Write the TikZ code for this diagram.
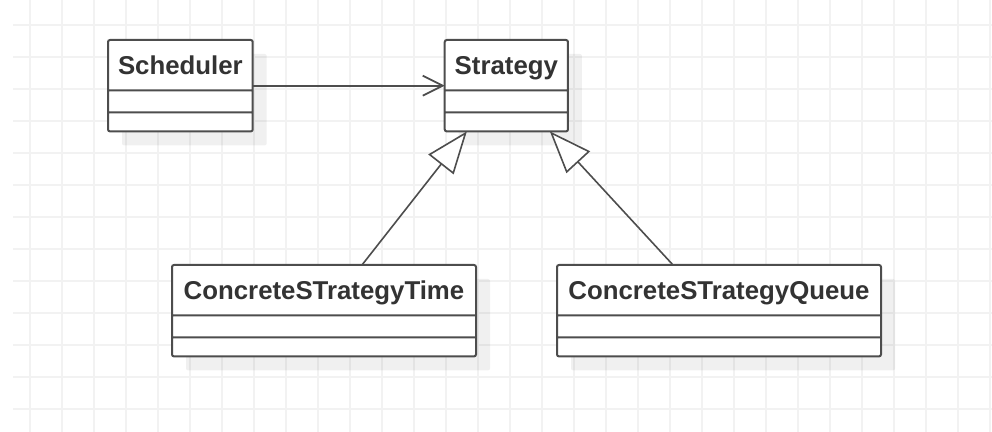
\documentclass[tikz,border=0pt]{standalone}
\usepackage{fontspec}
\setmainfont{Liberation Sans}
\usetikzlibrary{arrows.meta,positioning,shapes.multipart,shadows}
\definecolor{umlline}{HTML}{4D4D4D}
\definecolor{gridcol}{HTML}{F2F2F2}
% class name on top, attribute and operation compartments left empty
\newcommand{\umlname}[1]{\rule[-3.5pt]{0pt}{16.2pt}#1%
  \nodepart{two}\hspace*{1pt}\rule{0pt}{2pt}\nodepart{three}\hspace*{1pt}\rule{0pt}{0.5pt}}
\tikzset{
  umlclass/.style={rectangle split, rectangle split parts=3, draw=umlline, line width=1pt, rounded corners=1pt,
    fill=white, inner xsep=5pt, inner ysep=4pt, outer sep=0pt,
    font=\fontsize{12.9}{15}\selectfont\bfseries, text=black!80,
    drop shadow={shadow xshift=7pt, shadow yshift=-7pt, fill=black, opacity=0.06}},
  gridline/.style={draw=gridcol, line width=1pt},
  assoc/.style={-{Straight Barb[length=10pt, width=10pt]}, draw=umlline, line width=0.9pt},
  inherit/.style={-{Triangle[open, length=21pt, width=16pt, fill=white]}, draw=umlline, line width=0.8pt}
}
\begin{document}
\begin{tikzpicture}[x=0.5pt, y=-0.5pt]
  \useasboundingbox (0,0) rectangle (992,432);
  % background grid
  \foreach \gx in {0,...,30} \draw[gridline] ({30+32*\gx},0) -- ++(0,432);
  \foreach \gy in {0,...,12} \draw[gridline] (13,{25+32*\gy}) -- (992,{25+32*\gy});

  \node[umlclass, anchor=north west] (sched) at (108,40) {\umlname{Scheduler}};
  \node[umlclass, right=96pt of sched] (strat) {\umlname{Strategy}};
  \node[umlclass, anchor=north west, minimum width=152pt] (time) at (172,265) {\umlname{ConcreteSTrategyTime}};
  \node[umlclass, right=40.5pt of time, minimum width=162pt] (queue) {\umlname{ConcreteSTrategyQueue}};

  \draw[assoc] (sched) -- (strat);
  \draw[inherit] ([xshift=19pt]time.north) -- ([xshift=-19.75pt]strat.south);
  \draw[inherit] ([xshift=-23pt]queue.north) -- ([xshift=21.75pt]strat.south);
\end{tikzpicture}
\end{document}
